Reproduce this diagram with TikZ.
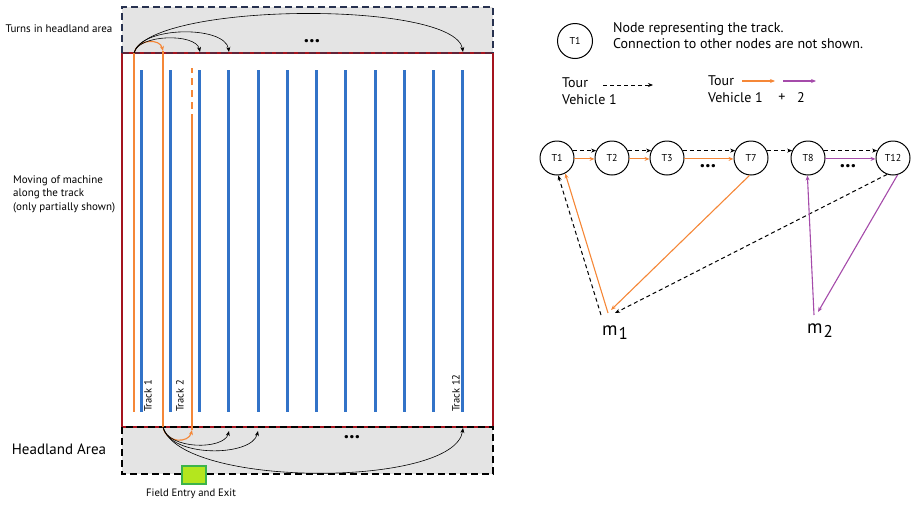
\documentclass[tikz,border=0pt]{standalone}
\usepackage{fontspec}
\setmainfont{PT Sans}
\usetikzlibrary{arrows.meta,calc}
\definecolor{trackblue}{RGB}{50,115,200}
\definecolor{tourorange}{RGB}{245,135,55}
\definecolor{tourpurple}{RGB}{165,75,170}
\definecolor{headgray}{RGB}{228,228,228}
\definecolor{fieldred}{RGB}{165,20,30}
\definecolor{navy}{RGB}{40,50,80}
\definecolor{entryfill}{RGB}{180,230,30}
\definecolor{entryedge}{RGB}{60,180,75}
\begin{document}
\begin{tikzpicture}[x=1pt,y=-1pt,
  arrowtip/.style={-{Stealth[length=5pt,width=4pt]}},
  headturn/.style={black, line width=0.6pt, arrowtip},
  trackline/.style={trackblue, line width=3pt},
  pathline/.style={tourorange, line width=1.1pt},
  tnode/.style={circle, draw, line width=1pt, minimum size=34pt, inner sep=0pt,
                fill=white, font=\fontsize{10}{10}\selectfont},
  vonearrow/.style={black, line width=1pt, dash pattern=on 4pt off 3pt, arrowtip},
  orangearrow/.style={tourorange, line width=1.1pt, arrowtip},
  purplearrow/.style={tourpurple, line width=1.1pt, arrowtip},
  dotsnode/.style={font=\fontsize{21}{21}\selectfont\bfseries, inner sep=0pt},
  lbl/.style={inner sep=0pt, font=\fontsize{11}{13.5}\selectfont},
  legendtext/.style={inner sep=0pt, anchor=west, font=\fontsize{14}{16}\selectfont},
  tracklabel/.style={rotate=90, anchor=west, inner sep=0pt, font=\fontsize{10.5}{10.5}\selectfont},
  mlabel/.style={inner sep=0pt, anchor=base west, font=\fontsize{19}{19}\selectfont}
]
\useasboundingbox (0,0) rectangle (915,504);

% ---------------- field with headlands ----------------
\fill[headgray] (122,7) rectangle (493,53);
\fill[headgray] (122,427) rectangle (493,474);
\draw[fieldred, line width=1.2pt] (122,53) rectangle (493,427);
\draw[navy, line width=1.3pt, dash pattern=on 7pt off 4pt]
  (122,53) -- (122,7) -- (493,7) -- (493,53);
\draw[navy, opacity=0.55, line width=1.2pt, dash pattern=on 7pt off 4pt] (122,53) -- (493,53);
\draw[black, line width=1.3pt, dash pattern=on 7pt off 4pt] (122,427) rectangle (493,474);

% tracks
\foreach \i in {0,...,11}
  \draw[trackline] ({141+29.27*\i},70) -- ({141+29.27*\i},412);

% path of the machine
\draw[pathline] (134,53) -- (134,412);
\draw[pathline, arrowtip] (134,53) .. controls (137,39) and (160,38) .. (163,51);
\draw[pathline] (163,51) -- (163,427);
\draw[pathline, arrowtip] (163,427) .. controls (166,444) and (189,443) .. (192,430);
\draw[pathline] (192,430) -- (192,121);
\draw[pathline, dash pattern=on 7pt off 5pt] (192,121) -- (192,68);

% turns in the upper headland
\draw[headturn] (134,53) .. controls (138,34) and (196,33) .. (200,52);
\draw[headturn] (134,53) .. controls (140,26) and (225,25) .. (229,52);
\draw[headturn] (134,53) .. controls (150,2) and (455,0) .. (463,52);
\node[dotsnode] (topdots) at (312,41) {...};

% turns in the lower headland
\draw[headturn] (163,427) .. controls (168,450) and (224,450) .. (229,431);
\draw[headturn] (163,427) .. controls (170,458) and (252,457) .. (258,431);
\draw[headturn] (163,427) .. controls (180,488) and (455,488) .. (463,428);
\node[dotsnode] (botdots) at (352,437) {...};

% field entry
\draw[entryedge, fill=entryfill, line width=1.2pt] (182,466) rectangle (206,484);
\node[inner sep=0pt, font=\fontsize{10.7}{10.7}\selectfont] (entry) at (191,494) {Field Entry and Exit};

% labels of the field
\node[tracklabel] (tr1) at (148,412) {Track 1};
\node[tracklabel] (tr2) at (180,412) {Track 2};
\node[tracklabel] (tr12) at (456,412) {Track 12};
\node[lbl] (turns) at (59,29) {Turns in headland area};
\node[lbl, align=left, anchor=west] (moving) at (13,194)
  {Moving of machine\\along the track\\(only partially shown)};
\node[inner sep=0pt, font=\fontsize{15}{15}\selectfont] (headland) at (59,449) {Headland Area};

% ---------------- legend ----------------
\node[tnode, minimum size=35pt] (legT) at (575,41) {T1};
\node[legendtext, align=left] (legtxt) at (613,36)
  {Node representing the track.\\Connection to other nodes are not shown.};
\node[legendtext] (tourA) at (562,83) {Tour};
\node[legendtext] (vehA) at (562,100) {Vehicle 1};
\coordinate (dA) at (603,85);
\coordinate (dB) at (653,85);
\draw[vonearrow] (dA) -- (dB);
\node[legendtext] (tourB) at (708,81) {Tour};
\node[legendtext] (vehB) at (708,98) {Vehicle 1};
\node[inner sep=0pt, font=\fontsize{14}{16}\selectfont] (plus) at (782,98) {+};
\node[inner sep=0pt, font=\fontsize{14}{16}\selectfont] (two) at (801,98) {2};
\coordinate (oA) at (742,81);
\coordinate (oB) at (775,81);
\coordinate (pA) at (783,81);
\coordinate (pB) at (816,81);
\draw[orangearrow] (oA) -- (oB);
\draw[purplearrow] (pA) -- (pB);

% ---------------- graph ----------------
\node[tnode] (T1) at (557,158) {T1};
\node[tnode] (T2) at (612,158) {T2};
\node[tnode] (T3) at (667,158) {T3};
\node[tnode] (T7) at (751,158) {T7};
\node[tnode] (T8) at (808,158) {T8};
\node[tnode] (T12) at (893,158) {T12};
\node[dotsnode] (d37) at (708,166) {...};
\node[dotsnode] (d812) at (848,166) {...};

\coordinate (m1) at (608,313);
\coordinate (m2) at (814,313);

% vehicle 1 alone
\draw[vonearrow] (T1.25) -- (T2.155);
\draw[vonearrow] (T2.25) -- (T3.155);
\draw[vonearrow] (T3.25) -- (T7.155);
\draw[vonearrow] (T7.25) -- (T8.155);
\draw[vonearrow] (T8.25) -- (T12.155);
\draw[vonearrow] ([xshift=-7pt,yshift=-2pt]m1) -- (T1.274);
\draw[vonearrow] (T12.250) -- ([xshift=7pt]m1);

% vehicle 1 and 2
\draw[orangearrow] (T1.-3) -- (T2.183);
\draw[orangearrow] (T2.-3) -- (T3.183);
\draw[orangearrow] (T3.-3) -- (T7.183);
\draw[orangearrow] (m1) -- (T1.298);
\draw[orangearrow] (T7.265) -- ([xshift=3pt,yshift=3pt]m1);
\draw[purplearrow] (T8.-3) -- (T12.183);
\draw[purplearrow] ([yshift=-2pt]m2) -- (T8.268);
\draw[purplearrow] (T12.285) -- ([xshift=4pt,yshift=1pt]m2);

\node[mlabel] (m1lbl) at (602,335) {m\kern1pt\raisebox{-4pt}{\fontsize{17}{17}\selectfont 1}};
\node[mlabel] (m2lbl) at (807,333) {m\kern1pt\raisebox{-4pt}{\fontsize{17}{17}\selectfont 2}};
\end{tikzpicture}
\end{document}
